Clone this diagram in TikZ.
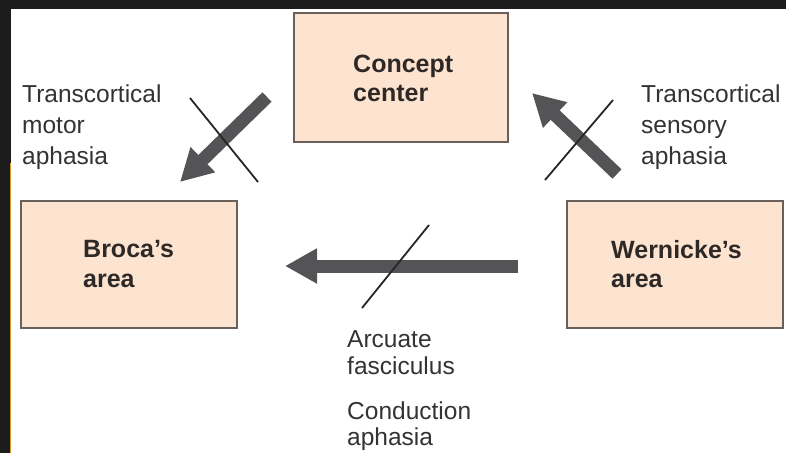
\documentclass[tikz,border=0pt]{standalone}
\usepackage{fontspec}
\setmainfont{Liberation Sans}
\usetikzlibrary{arrows.meta}
\definecolor{boxfill}{HTML}{FDE4D0}
\definecolor{boxline}{HTML}{6A5F59}
\definecolor{arrowgray}{HTML}{545456}
\definecolor{txt}{HTML}{2E2826}
\definecolor{lbl}{HTML}{333333}
\definecolor{bgdark}{HTML}{1C1C1C}
\definecolor{edgeorange}{HTML}{D99A2B}
\begin{document}
\begin{tikzpicture}[x=1pt,y=-1pt,
  area/.style={draw=boxline, line width=1.5pt, fill=boxfill, inner sep=0pt},
  boxtext/.style={anchor=base west, font=\fontsize{25}{29}\selectfont\bfseries, text=txt, inner sep=0pt},
  lab/.style={anchor=base west, font=\fontsize{24.5}{31}\selectfont, text=lbl, inner sep=0pt},
  blockarrow/.style={draw=arrowgray, line width=13pt, -{Triangle[width=33pt,length=32pt]}},
  crossline/.style={draw=black!85, line width=1.8pt}]
\useasboundingbox (0,0) rectangle (786,453);
% background
\fill[bgdark] (0,0) rectangle (786,453);
\fill[white] (11,9) rectangle (786,453);
\draw[edgeorange, line width=1pt] (10.5,163) -- (10.5,453);
% boxes
\node[area, minimum width=214pt, minimum height=129pt] (concept) at (401,77.5) {};
\node[area, minimum width=216pt, minimum height=127pt] (broca) at (129,264.5) {};
\node[area, minimum width=216pt, minimum height=127pt] (wernicke) at (675,264.5) {};
\node[boxtext] (c1) at (353,72) {Concept};
\node[boxtext] (c2) at (353,101) {center};
\node[boxtext] (b1) at (83,257) {Broca’s};
\node[boxtext] (b2) at (83,287) {area};
\node[boxtext] (w1) at (611,258) {Wernicke’s};
\node[boxtext] (w2) at (611,287) {area};
% labels
\node[lab] (tm1) at (22,102) {Transcortical};
\node[lab] (tm2) at (22,133) {motor};
\node[lab] (tm3) at (22,164) {aphasia};
\node[lab] (ts1) at (641,102) {Transcortical};
\node[lab] (ts2) at (641,133) {sensory};
\node[lab] (ts3) at (641,164) {aphasia};
\node[lab] (af1) at (347,347) {Arcuate};
\node[lab] (af2) at (347,374) {fasciculus};
\node[lab] (ca1) at (347,419) {Conduction};
\node[lab] (ca2) at (347,445) {aphasia};
% arrows
\coordinate (lt) at (267,97);
\coordinate (lh) at (180,182);
\coordinate (rt) at (617,174);
\coordinate (rh) at (532,93);
\coordinate (ht) at (518,266);
\coordinate (hh) at (285,266);
\draw[blockarrow] (lt) -- (lh);
\draw[blockarrow] (rt) -- (rh);
\draw[blockarrow] (ht) -- (hh);
% cross lines
\coordinate (lx1) at (190,98);
\coordinate (lx2) at (258,182);
\coordinate (rx1) at (613,100);
\coordinate (rx2) at (545,180);
\coordinate (hx1) at (429,225);
\coordinate (hx2) at (362,308);
\draw[crossline] (lx1) -- (lx2);
\draw[crossline] (rx1) -- (rx2);
\draw[crossline] (hx1) -- (hx2);
\end{tikzpicture}
\end{document}
